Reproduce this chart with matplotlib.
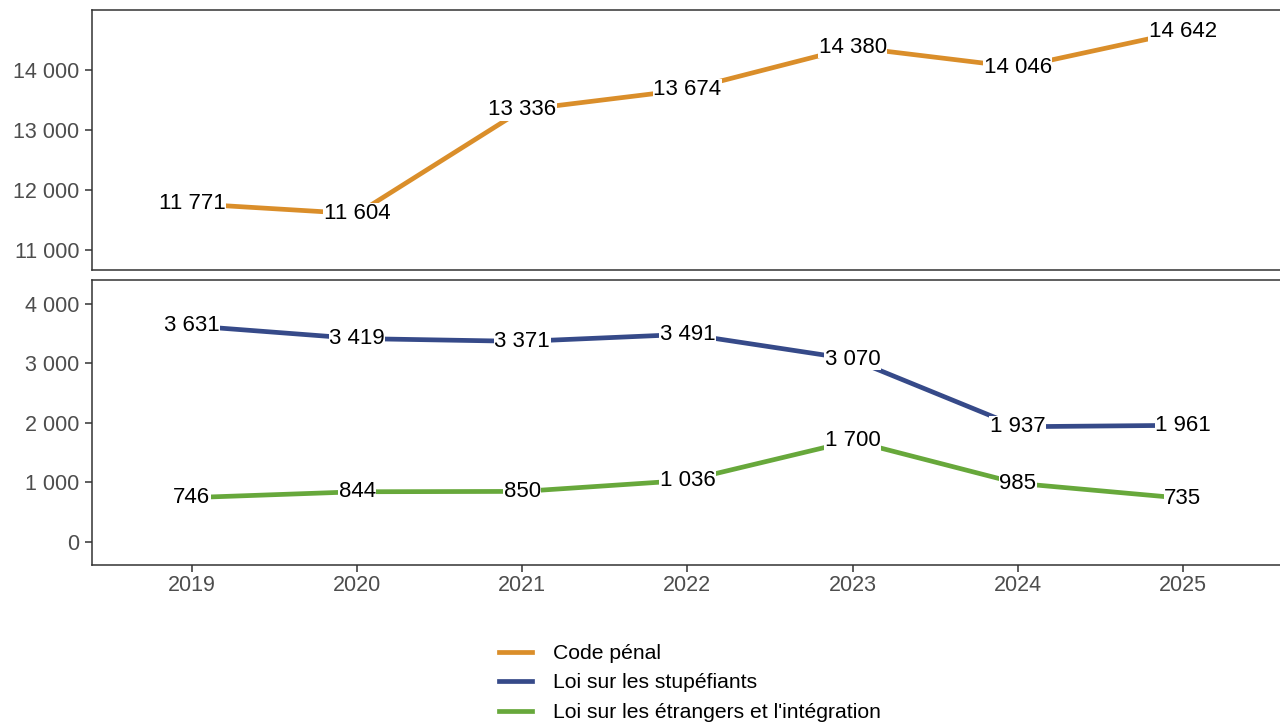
import matplotlib
matplotlib.use('Agg')
import matplotlib.pyplot as plt
from matplotlib.lines import Line2D

plt.rcParams['font.family'] = ['Liberation Sans', 'DejaVu Sans']

years = [2019, 2020, 2021, 2022, 2023, 2024, 2025]
code_penal = [11771, 11604, 13336, 13674, 14380, 14046, 14642]
stupefiants = [3631, 3419, 3371, 3491, 3070, 1937, 1961]
etrangers = [746, 844, 850, 1036, 1700, 985, 735]

series_names = ["Code pénal", "Loi sur les stupéfiants",
                "Loi sur les étrangers et l'intégration"]
colors = ['#DA8E2A', '#364A89', '#67A83B']

top_ticks = [11000, 12000, 13000, 14000]
bottom_ticks = [0, 1000, 2000, 3000, 4000]


def fmt(v):
    return f"{v:,}".replace(',', ' ')


W, H = 1280, 724
fig = plt.figure(figsize=(W / 100, H / 100), dpi=100)

left = 92 / W
right = 1282 / W
ax_top = fig.add_axes([left, 1 - 270 / H, right - left, 260 / H])
ax_bot = fig.add_axes([left, 1 - 565 / H, right - left, 285 / H])


def draw(ax, values, color):
    ax.plot(years, values, color=color, linewidth=3.4, solid_capstyle='butt', zorder=2)
    for x, v in zip(years, values):
        ax.text(x, v, fmt(v), ha='center', va='center', fontsize=16, color='black',
                zorder=3, bbox=dict(facecolor='white', edgecolor='none', pad=0.3))


draw(ax_top, code_penal, colors[0])
draw(ax_bot, stupefiants, colors[1])
draw(ax_bot, etrangers, colors[2])

ax_top.set_ylim(10667, 15000)
ax_top.set_yticks(top_ticks)
ax_top.set_yticklabels([fmt(t) for t in top_ticks])
ax_bot.set_ylim(-387, 4403)
ax_bot.set_yticks(bottom_ticks)
ax_bot.set_yticklabels([fmt(t) for t in bottom_ticks])

for ax in (ax_top, ax_bot):
    ax.set_xlim(2018.395, 2025.6)
    for s in ax.spines.values():
        s.set_color('#333333')
        s.set_linewidth(1.1)
    ax.tick_params(axis='y', colors='#333333', labelcolor='#4D4D4D', labelsize=15.5,
                   length=5, width=1.1, pad=4)
    ax.tick_params(axis='x', colors='#333333', labelcolor='#4D4D4D', labelsize=15.5,
                   length=5, width=1.1, pad=2)

ax_top.set_xticks([])
ax_bot.set_xticks(years)
ax_bot.set_xticklabels([str(y) for y in years])

handles = [Line2D([], [], color=c, linewidth=3.4) for c in colors]
fig.legend(handles, series_names, loc='center', bbox_to_anchor=(0.539, 1 - 683 / H),
           frameon=False, fontsize=15.2, handlelength=1.6, handletextpad=1.0,
           labelspacing=0.5)

fig.savefig('out.png', dpi=100)
